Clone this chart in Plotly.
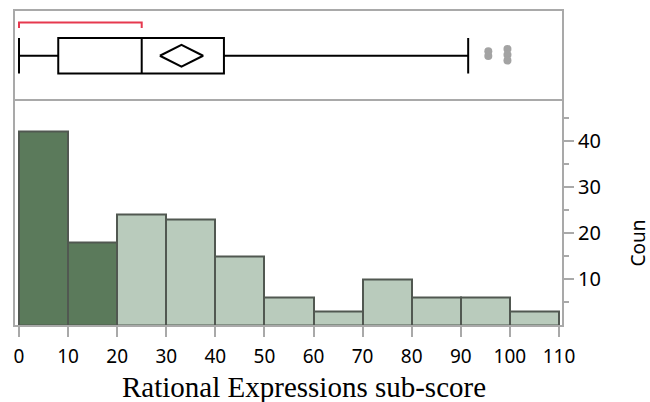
import plotly.graph_objects as go

# ---- data ----
bin_starts = [0, 10, 20, 30, 40, 50, 60, 70, 80, 90, 100]
bin_width = 10
counts = [42, 18, 24, 23, 15, 6, 3, 10, 6, 6, 3]
highlighted = [True, True, False, False, False, False, False, False, False, False, False]

box_min = 0
box_q1 = 8
box_median = 25
box_q3 = 41.75
box_upper_whisker = 91.5
mean_value = 33.1
mean_ci_low = 28.7
mean_ci_high = 37.5
shortest_half = [0, 25]
outlier_x = [95.6, 95.6, 99.5, 99.5, 99.5]
outlier_jitter = [0.545, 0.49, 0.57, 0.505, 0.44]

x_ticks = list(range(0, 111, 10))
y_ticks = [10, 20, 30, 40]

# ---- styling ----
dark = "#5b7a5b"
light = "#b9cbbc"
edge = "#515851"
frame = "#a9a9a9"
tick_font = dict(family="Noto Sans", size=19, color="black")

centers = [s + bin_width / 2 for s in bin_starts]
colors = [dark if h else light for h in highlighted]

fig = go.Figure()

fig.add_trace(go.Bar(
    x=centers, y=counts, width=[bin_width] * len(counts),
    marker=dict(color=colors, line=dict(color=edge, width=2)),
    xaxis="x", yaxis="y", showlegend=False, hoverinfo="x+y",
))

# box plot
box_center = 0.494
fig.add_trace(go.Box(
    q1=[box_q1], median=[box_median], q3=[box_q3],
    lowerfence=[box_min], upperfence=[box_upper_whisker],
    y=[box_center], orientation="h", width=0.4, whiskerwidth=1,
    fillcolor="rgba(255,255,255,0)", line=dict(color="black", width=2),
    boxpoints=False, xaxis="x2", yaxis="y2", showlegend=False,
))

# mean diamond
dh = 0.124
fig.add_trace(go.Scatter(
    x=[mean_ci_low, mean_value, mean_ci_high, mean_value, mean_ci_low],
    y=[box_center, box_center + dh, box_center, box_center - dh, box_center],
    mode="lines", line=dict(color="black", width=2),
    xaxis="x2", yaxis="y2", showlegend=False, hoverinfo="skip",
))

# shortest half bracket
fig.add_trace(go.Scatter(
    x=[shortest_half[0], shortest_half[0], shortest_half[1], shortest_half[1]],
    y=[0.809, 0.869, 0.869, 0.809],
    mode="lines", line=dict(color="#e6394f", width=2),
    xaxis="x2", yaxis="y2", showlegend=False, hoverinfo="skip",
))

# outliers
fig.add_trace(go.Scatter(
    x=outlier_x, y=outlier_jitter, mode="markers",
    marker=dict(color="#a3a3a3", size=8),
    xaxis="x2", yaxis="y2", showlegend=False,
))

split = (325 - 98) / 316
x_range = [-0.81, 110.61]

fig.update_layout(
    width=650, height=402,
    margin=dict(l=15, r=88, t=9, b=77),
    paper_bgcolor="white", plot_bgcolor="white",
    bargap=0,
    xaxis=dict(domain=[0, 1], range=x_range, tickvals=x_ticks,
               ticks="outside", ticklen=10, tickwidth=2, tickcolor=frame,
               showline=True, linecolor=frame, linewidth=2,
               showgrid=False, zeroline=False, tickfont=tick_font,
               ticklabelstandoff=3, anchor="y"),
    yaxis=dict(domain=[0, split], range=[0, 49.0], side="right",
               tickvals=y_ticks, ticks="outside", ticklen=10, tickwidth=2,
               tickcolor=frame, showline=True, mirror=True, linecolor=frame,
               linewidth=2, showgrid=False, zeroline=False,
               tickfont=dict(family="Noto Sans", size=20, color="black"),
               minor=dict(tickvals=[5, 15, 25, 35, 45], ticks="outside",
                          ticklen=5, tickwidth=2, tickcolor=frame, showgrid=False),
               anchor="x"),
    xaxis2=dict(domain=[0, 1], range=x_range, showticklabels=False,
                ticks="", showline=True, mirror=True, linecolor=frame,
                linewidth=2, showgrid=False, zeroline=False, anchor="y2",
                matches="x"),
    yaxis2=dict(domain=[split, 1], range=[0, 1], showticklabels=False,
                ticks="", showline=True, mirror=True, linecolor=frame,
                linewidth=2, showgrid=False, zeroline=False, anchor="x2"),
    annotations=[
        dict(text="Rational Expressions sub-score", xref="paper", yref="paper",
             x=(304 - 15) / 547, y=(325 - 369) / 316, xanchor="center",
             yanchor="top", showarrow=False,
             font=dict(family="Liberation Serif", size=29, color="black")),
        dict(text="Coun", xref="paper", yref="paper",
             x=(638 - 15) / 547, y=(325 - 243) / 316, xanchor="center",
             yanchor="middle", textangle=-90, showarrow=False,
             font=dict(family="Noto Sans", size=19, color="black")),
    ],
)

fig.write_html("out.html")
